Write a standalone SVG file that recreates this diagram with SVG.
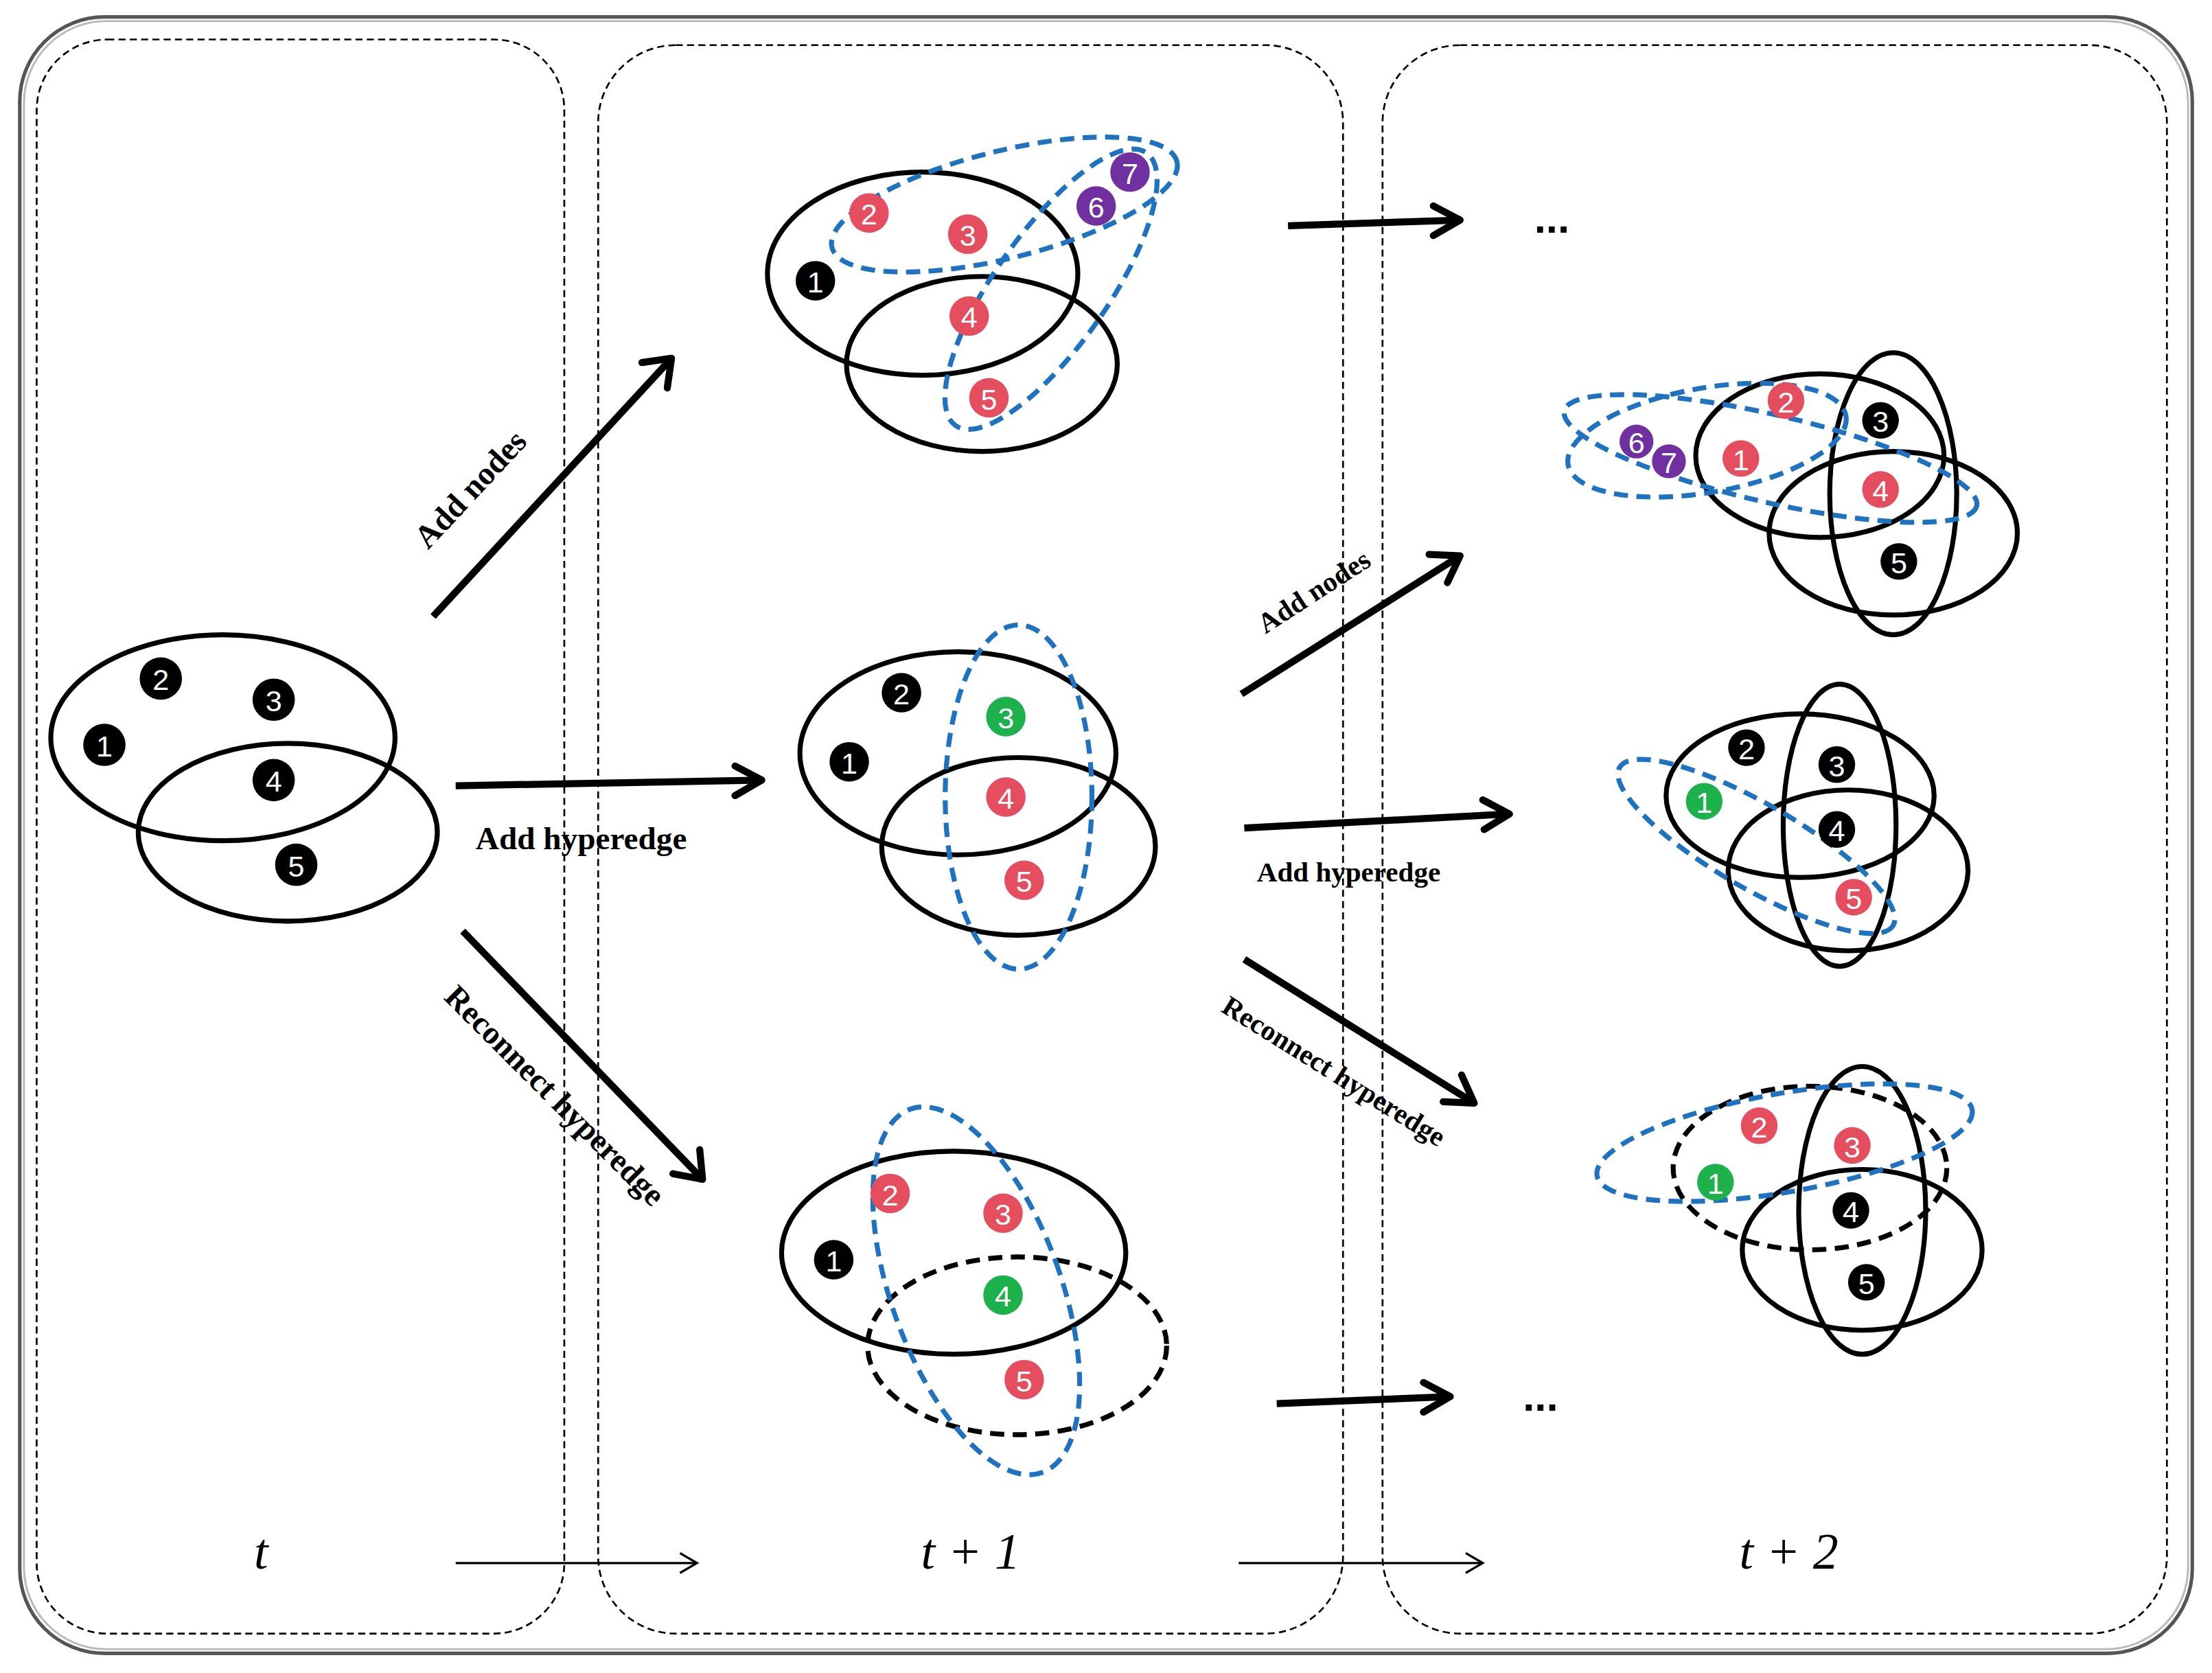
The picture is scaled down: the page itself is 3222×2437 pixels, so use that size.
<svg xmlns="http://www.w3.org/2000/svg" width="3222" height="2437" viewBox="0 0 3222 2437">
<style>
.e{fill:none;stroke:#000;stroke-width:3.5}
.ed{fill:none;stroke:#000;stroke-width:3.5;stroke-dasharray:10 6}
.b{fill:none;stroke:#1f72c0;stroke-width:3.5;stroke-dasharray:10 6}
.p{fill:none;stroke:#000;stroke-width:1.3;stroke-dasharray:5 3}
.k{fill:#000}.r{fill:#e44e5f}.g{fill:#1db14b}.v{fill:#7030a0}
.n{font-family:"Liberation Sans",Arial,sans-serif;font-size:21px;fill:#fff;text-anchor:middle;dominant-baseline:central}
.l{font-family:"Liberation Serif","Times New Roman",serif;font-weight:bold;font-size:23px;fill:#000;text-anchor:middle}
.l2{font-family:"Liberation Serif","Times New Roman",serif;font-weight:bold;font-size:20px;fill:#000;text-anchor:middle}
.t{font-family:"Liberation Serif","Times New Roman",serif;font-style:italic;font-size:36px;fill:#000;text-anchor:middle}
.a{stroke:#000;stroke-width:5;fill:none}
.ah{stroke:#000;stroke-width:5;fill:none;stroke-linecap:round;stroke-linejoin:round}
.th{stroke:#000;stroke-width:1.6;fill:none}
.dots{font-family:"Liberation Sans",Arial,sans-serif;font-weight:bold;font-size:30px;fill:#000;text-anchor:middle}
</style>
<rect width="3222" height="2437" fill="#fff"/>
<g transform="scale(2.0549)">
<g id="frame">
<rect x="14" y="12" width="1540" height="1160" rx="60" fill="none" stroke="#555" stroke-width="2.5"/>
<rect x="17" y="15" width="1534" height="1154" rx="58" fill="none" stroke="#bbb" stroke-width="1.5"/>
<rect x="26" y="28" width="374" height="1130" rx="50" class="p"/>
<rect x="424" y="32" width="528" height="1126" rx="55" class="p"/>
<rect x="980" y="32" width="556" height="1126" rx="55" class="p"/>
</g>
<g id="graph-t">
<ellipse cx="158" cy="523" rx="122" ry="73" class="e"/>
<ellipse cx="204" cy="590" rx="106" ry="63" class="e"/>
<circle cx="74" cy="528" r="15" class="k"/><text x="74" y="529" class="n">1</text>
<circle cx="114" cy="481" r="15" class="k"/><text x="114" y="482" class="n">2</text>
<circle cx="194" cy="496" r="15" class="k"/><text x="194" y="497" class="n">3</text>
<circle cx="194" cy="553" r="15" class="k"/><text x="194" y="554" class="n">4</text>
<circle cx="210" cy="613" r="15" class="k"/><text x="210" y="614" class="n">5</text>
</g>
<g id="graph-t1-a">
<ellipse cx="654" cy="194" rx="110" ry="72" class="e"/>
<ellipse cx="696" cy="258" rx="96" ry="62" class="e"/>
<ellipse cx="712" cy="145" rx="126" ry="38" transform="rotate(-14 712 145)" class="b"/>
<ellipse cx="745" cy="205" rx="40" ry="118" transform="rotate(35 745 205)" class="b"/>
<circle cx="578" cy="199" r="14" class="k"/><text x="578" y="200" class="n">1</text>
<circle cx="616" cy="151" r="14" class="r"/><text x="616" y="152" class="n">2</text>
<circle cx="686" cy="166" r="14" class="r"/><text x="686" y="167" class="n">3</text>
<circle cx="687" cy="224" r="14" class="r"/><text x="687" y="225" class="n">4</text>
<circle cx="701" cy="282" r="14" class="r"/><text x="701" y="283" class="n">5</text>
<circle cx="777" cy="146" r="14" class="v"/><text x="777" y="147" class="n">6</text>
<circle cx="801" cy="122" r="14" class="v"/><text x="801" y="123" class="n">7</text>
</g>
<g id="graph-t1-b">
<ellipse cx="679" cy="534" rx="112" ry="72" class="e"/>
<ellipse cx="722" cy="600" rx="97" ry="63" class="e"/>
<ellipse cx="722" cy="565" rx="52" ry="122" class="b"/>
<circle cx="602" cy="540" r="14" class="k"/><text x="602" y="541" class="n">1</text>
<circle cx="639" cy="491" r="14" class="k"/><text x="639" y="492" class="n">2</text>
<circle cx="713" cy="508" r="14" class="g"/><text x="713" y="509" class="n">3</text>
<circle cx="713" cy="565" r="14" class="r"/><text x="713" y="566" class="n">4</text>
<circle cx="726" cy="624" r="14" class="r"/><text x="726" y="625" class="n">5</text>
</g>
<g id="graph-t1-c">
<ellipse cx="676" cy="888" rx="122" ry="72" class="e"/>
<ellipse cx="721" cy="954" rx="106" ry="63" class="ed"/>
<ellipse cx="692" cy="915" rx="60" ry="137" transform="rotate(-20 692 915)" class="b"/>
<circle cx="591" cy="893" r="14" class="k"/><text x="591" y="894" class="n">1</text>
<circle cx="631" cy="846" r="14" class="r"/><text x="631" y="847" class="n">2</text>
<circle cx="711" cy="860" r="14" class="r"/><text x="711" y="861" class="n">3</text>
<circle cx="711" cy="918" r="14" class="g"/><text x="711" y="919" class="n">4</text>
<circle cx="726" cy="978" r="14" class="r"/><text x="726" y="979" class="n">5</text>
</g>
<g id="graph-t2-a">
<ellipse cx="1290" cy="323" rx="88" ry="58" class="e"/>
<ellipse cx="1342" cy="378" rx="88" ry="58" class="e"/>
<ellipse cx="1342" cy="350" rx="45" ry="100" class="e"/>
<ellipse cx="1210" cy="312" rx="100" ry="37" transform="rotate(-10 1210 312)" class="b"/>
<ellipse cx="1255" cy="325" rx="150" ry="31" transform="rotate(13 1255 325)" class="b"/>
<circle cx="1160" cy="313" r="12" class="v"/><text x="1160" y="314" class="n" font-size="18">6</text>
<circle cx="1183" cy="327" r="12" class="v"/><text x="1183" y="328" class="n" font-size="18">7</text>
<circle cx="1234" cy="325" r="13" class="r"/><text x="1234" y="326" class="n">1</text>
<circle cx="1266" cy="284" r="13" class="r"/><text x="1266" y="285" class="n">2</text>
<circle cx="1333" cy="298" r="13" class="k"/><text x="1333" y="299" class="n">3</text>
<circle cx="1333" cy="347" r="13" class="r"/><text x="1333" y="348" class="n">4</text>
<circle cx="1346" cy="398" r="13" class="k"/><text x="1346" y="399" class="n">5</text>
</g>
<g id="graph-t2-b">
<ellipse cx="1276" cy="564" rx="95" ry="58" class="e"/>
<ellipse cx="1310" cy="617" rx="85" ry="57" class="e"/>
<ellipse cx="1304" cy="585" rx="40" ry="100" class="e"/>
<ellipse cx="1245" cy="600" rx="112" ry="30" transform="rotate(30 1245 600)" class="b"/>
<circle cx="1238" cy="530" r="13" class="k"/><text x="1238" y="531" class="n">2</text>
<circle cx="1302" cy="542" r="13" class="k"/><text x="1302" y="543" class="n">3</text>
<circle cx="1208" cy="568" r="13" class="g"/><text x="1208" y="569" class="n">1</text>
<circle cx="1302" cy="588" r="13" class="k"/><text x="1302" y="589" class="n">4</text>
<circle cx="1314" cy="636" r="13" class="r"/><text x="1314" y="637" class="n">5</text>
</g>
<g id="graph-t2-c">
<ellipse cx="1283" cy="828" rx="97" ry="58" class="ed"/>
<ellipse cx="1320" cy="886" rx="85" ry="57" class="e"/>
<ellipse cx="1320" cy="858" rx="45" ry="102" class="e"/>
<ellipse cx="1265" cy="810" rx="135" ry="35" transform="rotate(-10 1265 810)" class="b"/>
<circle cx="1247" cy="798" r="13" class="r"/><text x="1247" y="799" class="n">2</text>
<circle cx="1313" cy="812" r="13" class="r"/><text x="1313" y="813" class="n">3</text>
<circle cx="1216" cy="838" r="13" class="g"/><text x="1216" y="839" class="n">1</text>
<circle cx="1312" cy="858" r="13" class="k"/><text x="1312" y="859" class="n">4</text>
<circle cx="1323" cy="909" r="13" class="k"/><text x="1323" y="910" class="n">5</text>
</g>
<g id="connectors">
<line x1="307" y1="437" x2="476" y2="254" class="a"/><polyline points="455,257 476,254 473,275" class="ah"/>
<line x1="323" y1="557" x2="540" y2="553" class="a"/><polyline points="521,543 540,553 521,564" class="ah"/>
<line x1="328" y1="660" x2="498" y2="836" class="a"/><polyline points="496,815 498,836 477,832" class="ah"/>
<line x1="913" y1="160" x2="1035" y2="156" class="a"/><polyline points="1016,146 1035,156 1016,167" class="ah"/>
<line x1="880" y1="492" x2="1035" y2="394" class="a"/><polyline points="1013,393 1035,394 1026,413" class="ah"/>
<line x1="882" y1="587" x2="1070" y2="577" class="a"/><polyline points="1051,567 1070,577 1052,588" class="ah"/>
<line x1="882" y1="680" x2="1045" y2="782" class="a"/><polyline points="1036,762 1045,782 1023,781" class="ah"/>
<line x1="905" y1="995" x2="1028" y2="990" class="a"/><polyline points="1009,980 1028,990 1009,1001" class="ah"/>
<line x1="323" y1="1108" x2="494" y2="1108" class="th"/><polyline points="482,1101 494,1108 482,1115" class="th"/>
<line x1="878" y1="1108" x2="1051" y2="1108" class="th"/><polyline points="1039,1101 1051,1108 1039,1115" class="th"/>
</g>
<g id="labels">
<text x="339" y="352" class="l" transform="rotate(-47 339 352)">Add nodes</text>
<text x="412" y="602" class="l">Add hyperedge</text>
<text x="388" y="782" class="l" transform="rotate(45 388 782)">Reconnect hyperedge</text>
<text x="935" y="425" class="l2" transform="rotate(-33 935 425)">Add nodes</text>
<text x="956" y="625" class="l2">Add hyperedge</text>
<text x="942" y="765" class="l2" transform="rotate(32 942 765)">Reconnect hyperedge</text>
<text x="1100" y="165" class="dots">...</text>
<text x="1092" y="1000" class="dots">...</text>
<text x="185" y="1112" class="t">t</text>
<text x="688" y="1112" class="t">t + 1</text>
<text x="1268" y="1112" class="t">t + 2</text>
</g>
</g>
</svg>
